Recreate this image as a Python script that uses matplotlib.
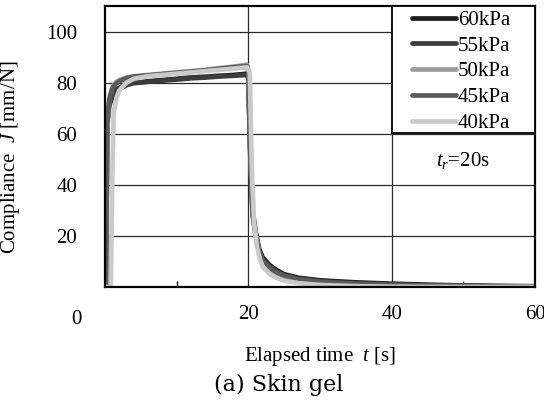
import matplotlib
matplotlib.use("Agg")
import matplotlib.pyplot as plt
from matplotlib.patches import Rectangle

plt.rcParams["font.family"] = ["Liberation Serif", "DejaVu Serif"]
plt.rcParams["mathtext.fontset"] = "custom"
plt.rcParams["mathtext.rm"] = "Liberation Serif"
plt.rcParams["mathtext.it"] = "Liberation Serif:italic"

# 读图估计的数据: 时间 [s] 与柔度 J [mm/N]
t_a = [0, 0.15, 0.3, 0.6, 1.0, 1.5, 2, 3, 4, 6, 8, 10, 12, 14, 16, 18, 19.8,
       20.0, 20.3, 20.6, 21, 21.5, 22, 23, 24, 25, 27, 30, 35, 40, 45, 50, 55, 60]
t_b = [0, 0.8, 1.0, 1.2, 1.6, 2, 3, 4, 6, 8, 10, 12, 14, 16, 18, 19.8,
       20.2, 20.5, 20.8, 21.2, 21.6, 22, 23, 24, 25, 27, 30, 35, 40, 45, 50, 55, 60]

j_60 = [0, 0, 66, 72, 75, 77, 78, 79.5, 80, 80.5, 81, 81.5, 82, 82.3, 82.7, 83, 83.5,
        82, 50, 30, 22, 15, 11.5, 8.5, 6.5, 5, 3.6, 2.6, 1.8, 1.3, 0.9, 0.6, 0.4, 0.3]
j_55 = [0, 0, 64, 71, 74, 76.5, 77.5, 79, 79.8, 80.3, 80.8, 81.2, 81.7, 82, 82.4, 82.7, 83,
        81.5, 48, 28, 20.5, 14, 10.5, 7.8, 6, 4.6, 3.3, 2.3, 1.5, 1.0, 0.7, 0.5, 0.3, 0.2]
j_50 = [0, 0, 62, 74, 78, 80, 81, 82, 82.5, 83, 83.5, 84, 84.5, 85, 85.7, 86.3, 87,
        85, 52, 29, 21, 13.5, 10, 7, 5.2, 4, 2.8, 1.8, 1.0, 0.6, 0.4, 0.3, 0.2, 0.1]
j_45 = [0, 0, 63, 73, 77.5, 79.5, 80.5, 81.7, 82.3, 82.8, 83.3, 83.8, 84.3, 84.8, 85.4, 86, 86.5,
        84.5, 51, 29, 21, 14, 10.5, 7.5, 5.6, 4.3, 3.0, 2.0, 1.2, 0.8, 0.5, 0.3, 0.2, 0.1]
j_40 = [0, 0, 40, 68, 74, 77, 80, 81.5, 82.5, 83, 83.5, 84, 84.5, 85, 85.5, 86,
        84, 45, 25, 16, 11, 8, 5, 3.5, 2.5, 1.5, 0.8, 0.3, 0.1, 0, 0, 0, 0]

series = [
    ("60kPa", t_a, j_60, "#1c1c1c"),
    ("55kPa", t_a, j_55, "#3c3c3c"),
    ("50kPa", t_a, j_50, "#9c9c9c"),
    ("45kPa", t_a, j_45, "#5a5a5a"),
    ("40kPa", t_b, j_40, "#cacaca"),
]

fig = plt.figure(figsize=(5.44, 4.0), dpi=100)
ax = fig.add_axes([105 / 544, 1 - 287 / 400, 430 / 544, 281 / 400])

for name, t, j, c in series:
    ax.plot(t, j, color=c, lw=3.4, label=name, solid_capstyle="round")

ax.set_xlim(0, 60)
ax.set_ylim(0, 110)
ax.set_xticks([20, 40, 60])
ax.set_xticks([10, 30, 50], minor=True)
ax.set_yticks([20, 40, 60, 80, 100])
ax.grid(True, which="major", color="#2a2a2a", lw=0.9)
ax.tick_params(axis="both", which="major", length=0, labelsize=15)
ax.tick_params(axis="x", which="major", pad=13)
ax.tick_params(axis="y", which="major", pad=20)
ax.tick_params(axis="x", which="minor", direction="in", length=4, width=1)
for s in ax.spines.values():
    s.set_linewidth(1.6)
    s.set_color("black")

# 轴的 "0" 标签放在 x 标签行的左侧
fig.text(76 / 544, 1 - 320 / 400, "0", fontsize=15, ha="center", va="center")

ax.set_ylabel("Compliance  $J$ [mm/N]", fontsize=15)
ax.yaxis.set_label_coords(-0.193, 0.46)
ax.set_xlabel("Elapsed time  $t$ [s]", fontsize=15)
ax.xaxis.set_label_coords(0.5, -0.205)

# 图例框(比默认更宽)
ax.add_patch(Rectangle((287 / 430, 154 / 281), 143 / 430, 127 / 281,
                       transform=ax.transAxes, facecolor="white",
                       edgecolor="black", lw=1.3, zorder=4))
leg = ax.legend(loc="upper left", bbox_to_anchor=(307 / 430, 0.985), fontsize=15,
                frameon=False, borderaxespad=0, borderpad=0, handlelength=2.1,
                handletextpad=0.1, labelspacing=0.3)
leg.set_zorder(5)

ax.text(50, 49.5, "$t_r$=20s", fontsize=15, ha="center", va="center")

fig.text(279 / 544, 1 - 385 / 400, "(a) Skin gel", fontsize=16,
         family=["DejaVu Serif"], ha="center", va="center")

fig.savefig("out.png", dpi=100)
